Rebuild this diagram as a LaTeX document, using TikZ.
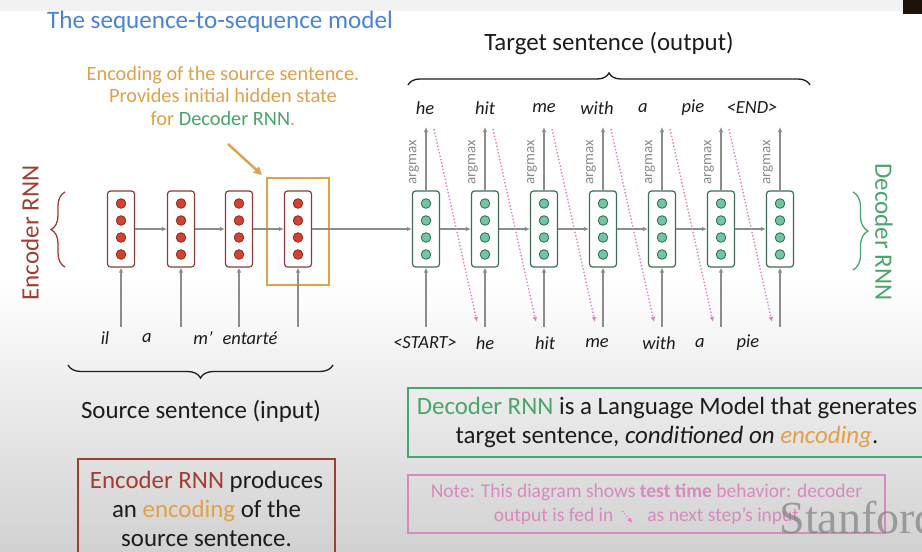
\documentclass[tikz,border=0pt]{standalone}
\usepackage{fontspec}
\setmainfont{Carlito}
\newfontfamily\markfont{Liberation Serif}
\usetikzlibrary{arrows.meta,calc,decorations.pathreplacing}

\definecolor{titleblue}{HTML}{4A84D6}
\definecolor{encred}{HTML}{A23D32}
\definecolor{encborder}{HTML}{8E3B36}
\definecolor{encdot}{HTML}{D4412F}
\definecolor{encdotline}{HTML}{8B2E22}
\definecolor{decgreen}{HTML}{4AA56B}
\definecolor{decborder}{HTML}{3E6E58}
\definecolor{decdot}{HTML}{6FC6A0}
\definecolor{decdotline}{HTML}{2F6B50}
\definecolor{encorange}{HTML}{E1A04A}
\definecolor{arrowgray}{HTML}{8C8C8C}
\definecolor{pinkdot}{HTML}{E67CC6}
\definecolor{notepink}{HTML}{D68ABE}
\definecolor{inkblack}{HTML}{1C1C1C}

\begin{document}
\begin{tikzpicture}[x=1pt, y=-1pt, >={Latex[length=5pt,width=4.5pt]},
    cellbox/.style={rounded corners=3pt, line width=1.2pt, fill=white,
        minimum width=27pt, minimum height=76pt, inner sep=0pt},
    enccell/.style={cellbox, draw=encborder},
    deccell/.style={cellbox, draw=decborder},
    flow/.style={->, draw=arrowgray, line width=1.3pt},
    feed/.style={->, draw=pinkdot, dotted, line width=1.4pt},
    word/.style={font=\fontsize{18.5}{22}\selectfont\itshape, text=inkblack, inner sep=0pt},
    big/.style={font=\fontsize{24.9}{29}\selectfont, text=inkblack}]
    % page and background
    \useasboundingbox (0,0) rectangle (922,552);
    \clip (0,0) rectangle (922,552);
    \fill[white] (0,0) rectangle (922,552);
    \shade[top color=white, bottom color=black!18] (0,280) rectangle (922,552);
    \fill[black!5] (0,0) rectangle (922,11);
    \fill[black!85!brown] (903,0) rectangle (922,14);

    \node[font=\fontsize{25.1}{30}\selectfont, text=titleblue] (title) at (220,22) {The sequence-to-sequence model};

    % encoder
    \node[draw=encorange, line width=2pt, minimum width=62pt, minimum height=107pt] (enc) at (298,231.5) {};
    \foreach \x [count=\i] in {121,181,239,298} {
        \node[enccell] (e\i) at (\x,229) {};
        \foreach \k in {0,...,3}
            \draw[encdotline, fill=encdot, line width=0.8pt] (\x,203.5+17*\k) circle[radius=4.8pt];
        \coordinate (ie\i) at (\x,327);
        \draw[flow] (ie\i) -- (e\i.south);
    }
    \foreach \i/\j in {1/2,2/3,3/4}
        \draw[flow] (e\i.east) -- (e\j.west);

    \node[word] (w1) at (105,338) {il};
    \node[word] (w2) at (147,338) {a};
    \node[word] (w3) at (203,338) {m’};
    \node[word] (w4) at (250,338) {entarté};

    % decoder
    \foreach \x [count=\i] in {426,485,544,603,662,721,780} {
        \node[deccell] (d\i) at (\x,229) {};
        \foreach \k in {0,...,3}
            \draw[decdotline, fill=decdot, line width=0.8pt] (\x,203.5+17*\k) circle[radius=4.8pt];
        \coordinate (o\i) at (\x,127);
        \coordinate (id\i) at (\x,327);
        \draw[flow] (d\i.north) -- (o\i);
        \draw[flow] (id\i) -- (d\i.south);
        \node[rotate=90, font=\fontsize{15}{17}\selectfont, text=arrowgray, inner sep=0pt] (am\i) at (\x-12,162) {argmax};
    }
    \draw[flow] (e4.east) -- (d1.west);
    \foreach \i/\j in {1/2,2/3,3/4,4/5,5/6,6/7} {
        \draw[flow] (d\i.east) -- (d\j.west);
        \draw[feed] ($(o\i)+(8,2)$) -- ($(id\j)+(-8,-5)$);
    }

    \node[word] (y1) at (425,108) {he};
    \node[word] (y2) at (485,108) {hit};
    \node[word] (y3) at (544,108) {me};
    \node[word] (y4) at (597,108) {with};
    \node[word] (y5) at (643,108) {a};
    \node[word] (y6) at (693,108) {pie};
    \node[word] (y7) at (752,108) {<END>};

    \node[word] (x1) at (425,343) {<START>};
    \node[word] (x2) at (485,343) {he};
    \node[word] (x3) at (545,343) {hit};
    \node[word] (x4) at (597,343) {me};
    \node[word] (x5) at (659,343) {with};
    \node[word] (x6) at (700,343) {a};
    \node[word] (x7) at (748,343) {pie};

    % braces and side labels
    \draw[decorate, decoration={brace, amplitude=12pt}, line width=1.3pt, inkblack] (408,85) -- (810,85);
    \node[big] (tgt) at (609,44) {Target sentence (output)};
    \draw[decorate, decoration={brace, amplitude=13pt}, line width=1.3pt, inkblack] (333,365) -- (68,365);
    \node[big] (src) at (201,411) {Source sentence (input)};
    \draw[decorate, decoration={brace, amplitude=14pt}, line width=1.3pt, encred] (65,267) -- (65,192);
    \node[rotate=90, font=\fontsize{25}{30}\selectfont, text=encred] (encname) at (30,233) {Encoder RNN};
    \draw[decorate, decoration={brace, amplitude=15pt}, line width=1.3pt, decgreen] (853,192) -- (853,270);
    \node[rotate=-90, font=\fontsize{25}{30}\selectfont, text=decgreen] (decname) at (884,232) {Decoder RNN};

    % annotation of the encoding
    \node[align=center, font=\fontsize{20.3}{22.5}\selectfont, text=encorange] (encnote) at (223,96)
        {Encoding of the source sentence.\\Provides initial hidden state\\for \textcolor{decgreen}{Decoder RNN}.};
    \coordinate (tail) at (228,144);
    \draw[encorange, line width=2.4pt, -{Triangle[length=8pt,width=8pt]}] (tail) -- ($(enc.north west)+(-4,-2)$);

    % summary boxes
    \node[big, draw=encred, line width=1.3pt, minimum width=257pt, minimum height=100pt, align=center] (encsum) at (206.5,509)
        {\textcolor{encred}{Encoder RNN} produces\\an \textcolor{encorange}{encoding} of the\\source sentence.};
    \node[big, draw=decgreen, line width=1.3pt, minimum width=518pt, minimum height=69pt, align=center] (decsum) at (667,422.5)
        {\textcolor{decgreen}{Decoder RNN} is a Language Model that generates\\target sentence, \textit{conditioned on \textcolor{encorange}{encoding}}.};
    \node[draw=notepink, line width=1.3pt, minimum width=477pt, minimum height=58pt, align=center,
        font=\fontsize{19.5}{24}\selectfont, text=notepink] (testnote) at (646.5,504)
        {Note: This diagram shows \textbf{test time} behavior: decoder\\output is fed in\hspace{34pt}as next step’s input};
    \draw[feed, line width=1.1pt] ($(testnote.center)+(-24,7)$) -- ($(testnote.center)+(-14,19)$);
    \node[anchor=base west, font=\markfont\fontsize{46}{46}\selectfont, text=black!50, opacity=0.7] (mark) at (776,533) {Stanford};
\end{tikzpicture}
\end{document}
